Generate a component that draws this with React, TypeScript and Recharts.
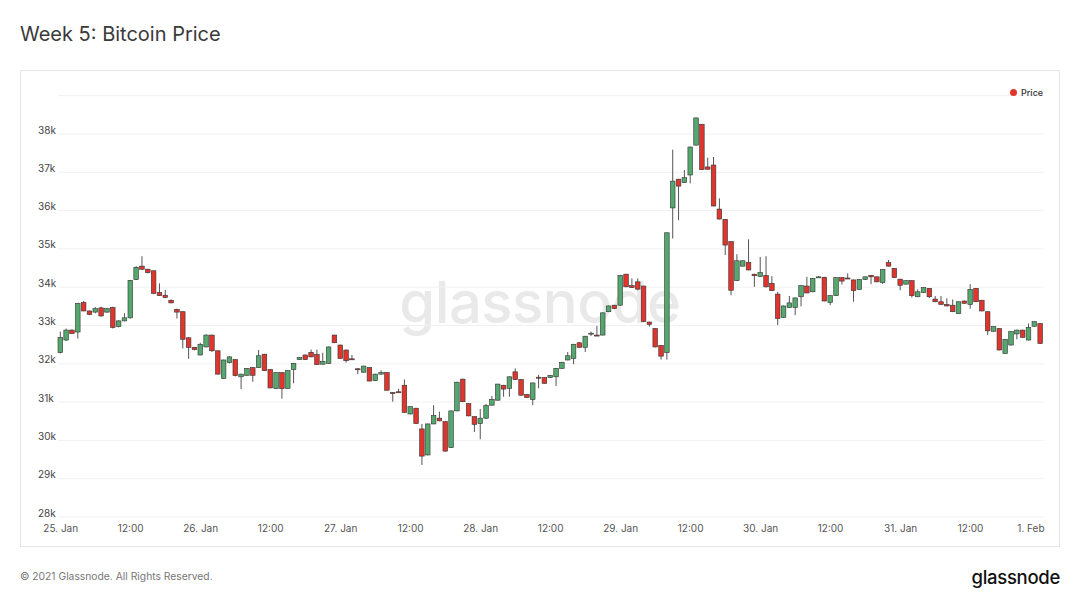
import React from 'react';
import { ComposedChart, Bar, XAxis, YAxis, CartesianGrid } from 'recharts';

const TICK_LABELS = [
  '25. Jan', '12:00', '26. Jan', '12:00', '27. Jan', '12:00', '28. Jan', '12:00',
  '29. Jan', '12:00', '30. Jan', '12:00', '31. Jan', '12:00', '1. Feb',
];
const Y_TICKS = [28000, 29000, 30000, 31000, 32000, 33000, 34000, 35000, 36000, 37000, 38000, 39000];

// hourly candles, 25 Jan 00:00 .. 1 Feb 00:00
const OPEN = [
  32290, 32620, 32880, 32830, 33600, 33380, 33350, 33460, 33350, 33470, 32970, 33120,
  33200, 34200, 34550, 34470, 34430, 33860, 33790, 33660, 33420, 33360, 32680, 32430,
  32230, 32440, 32750, 32340, 31620, 32030, 32110, 31660, 31700, 31900, 31900, 32250,
  31850, 31350, 31770, 31360, 31850, 32110, 32230, 32300, 32240, 31990, 32010, 32750,
  32490, 32360, 32130, 31870, 31780, 31900, 31560, 31730, 31770, 31250, 31270, 31440,
  30690, 30840, 30300, 29620, 30430, 30580, 30490, 29810, 30770, 31600, 30960, 30620,
  30440, 30580, 30920, 31050, 31440, 31360, 31790, 31590, 31200, 31070, 31650, 31640,
  31640, 31660, 31880, 32100, 32140, 32550, 32430, 32790, 32750, 32750, 33360, 33530,
  33530, 34340, 34040, 34140, 34030, 33090, 32920, 32480, 32290, 36070, 36820, 36730,
  36930, 37710, 38250, 37140, 37190, 36040, 35770, 35190, 34170, 34550, 34650, 34340,
  34280, 34310, 34100, 33820, 33210, 33470, 33470, 33750, 34030, 33880, 34270, 34260,
  33600, 33780, 34250, 34240, 34190, 33940, 34200, 34310, 34270, 34120, 34640, 34490,
  34210, 34080, 34170, 33750, 33860, 33970, 33690, 33620, 33550, 33530, 33310, 33640,
  33550, 33970, 33660, 33360, 32850, 32920, 32270, 32490, 32780, 32880, 32620, 32980,
  33050,
];
const HIGH = [
  32840, 32920, 32900, 33590, 33640, 33390, 33480, 33490, 33460, 33490, 33140, 33320,
  34190, 34550, 34810, 34480, 34430, 34100, 33930, 33680, 33440, 33370, 32690, 32440,
  32550, 32770, 32760, 32350, 32110, 32200, 32120, 31740, 31890, 31910, 32360, 32260,
  31860, 31780, 31780, 31830, 32020, 32180, 32240, 32370, 32370, 32290, 32450, 32760,
  32500, 32370, 32230, 31880, 31950, 31910, 31740, 31830, 31780, 31260, 31350, 31590,
  30890, 30850, 30430, 30440, 30920, 30750, 30500, 30780, 31530, 31610, 30970, 30630,
  30820, 30950, 31160, 31480, 31450, 31670, 31880, 31600, 31210, 31510, 31710, 31650,
  31710, 31890, 32050, 32310, 32520, 32560, 32730, 32840, 32990, 33340, 33520, 33540,
  34320, 34350, 34230, 34230, 34040, 33100, 32930, 32490, 35430, 37590, 36830, 37060,
  37670, 38430, 38260, 37380, 37400, 36320, 35780, 35200, 34860, 34700, 35250, 34350,
  34790, 34810, 34290, 33880, 33520, 33770, 33730, 34050, 34270, 34240, 34290, 34270,
  33790, 34260, 34260, 34360, 34200, 34210, 34280, 34320, 34280, 34470, 34710, 34500,
  34220, 34180, 34180, 33940, 34000, 33980, 33770, 33770, 33710, 33680, 33630, 33650,
  34080, 33980, 33670, 33370, 32980, 32930, 32650, 32850, 32890, 32890, 33050, 33110,
  33060,
];
const LOW = [
  32270, 32600, 32780, 32660, 33370, 33270, 33320, 33230, 33330, 32920, 32950, 33110,
  33180, 34190, 34450, 34360, 33820, 33770, 33720, 33580, 33180, 32400, 32130, 32350,
  32220, 32430, 32310, 31720, 31600, 32010, 31670, 31340, 31690, 31530, 31890, 31810,
  31360, 31340, 31090, 31350, 31490, 32100, 32100, 32170, 31970, 31980, 32000, 32540,
  32130, 32030, 32110, 31730, 31770, 31540, 31550, 31720, 31300, 31010, 31250, 30720,
  30680, 30430, 29360, 29610, 30420, 30500, 29710, 29800, 30760, 31000, 30630, 30220,
  30030, 30560, 30910, 31040, 31140, 31140, 31580, 31170, 31110, 30920, 31360, 31480,
  31630, 31420, 31870, 32090, 31990, 32420, 32310, 32730, 32730, 32740, 33350, 33430,
  33520, 34000, 33980, 33920, 33090, 32970, 32430, 32110, 32110, 35270, 35750, 36720,
  36710, 37700, 37060, 37070, 36110, 35770, 34840, 33790, 34160, 34540, 34440, 34010,
  34270, 33990, 33900, 33010, 33200, 33460, 33270, 33500, 33840, 33870, 34250, 33630,
  33530, 33770, 34070, 34220, 33620, 33930, 34190, 34080, 34130, 34080, 34540, 34240,
  33920, 34070, 33730, 33740, 33850, 33720, 33610, 33540, 33500, 33350, 33300, 33570,
  33440, 33610, 33370, 32750, 32840, 32350, 32260, 32480, 32640, 32680, 32610, 32970,
  32520,
];
const CLOSE = [
  32690, 32880, 32790, 33580, 33380, 33290, 33440, 33250, 33440, 32950, 33120, 33200,
  34180, 34520, 34470, 34380, 33840, 33780, 33730, 33590, 33350, 32640, 32430, 32370,
  32510, 32750, 32340, 31730, 32100, 32180, 31690, 31730, 31880, 31700, 32210, 31820,
  31370, 31770, 31350, 31820, 32010, 32160, 32110, 32180, 31980, 32060, 32440, 32550,
  32140, 32080, 32120, 31860, 31940, 31550, 31730, 31770, 31310, 31240, 31260, 30730,
  30880, 30440, 29590, 30430, 30650, 30510, 29720, 30770, 31520, 31010, 30640, 30420,
  30580, 30910, 31070, 31470, 31340, 31660, 31590, 31180, 31120, 31500, 31640, 31490,
  31700, 31880, 32040, 32210, 32510, 32430, 32720, 32800, 32740, 33330, 33510, 33440,
  34310, 34010, 33990, 33950, 33100, 33030, 32440, 32200, 35420, 36770, 36640, 36860,
  37660, 38420, 37070, 37080, 36120, 35780, 35100, 33920, 34690, 34690, 34450, 34300,
  34380, 34010, 33910, 33180, 33510, 33590, 33720, 34040, 33850, 34230, 34270, 33640,
  33780, 34250, 34160, 34230, 33910, 34200, 34270, 34270, 34140, 34460, 34550, 34250,
  34050, 34170, 33780, 33880, 33990, 33750, 33620, 33550, 33510, 33360, 33620, 33580,
  33940, 33620, 33380, 32860, 32970, 32360, 32640, 32840, 32880, 32690, 32950, 33100,
  32530,
];

const UP = '#54a86e';
const DOWN = '#e0352d';

const data = OPEN.map((open, i) => ({
  idx: i,
  open,
  high: HIGH[i],
  low: LOW[i],
  close: CLOSE[i],
  range: [LOW[i], HIGH[i]],
}));

function Candle(props: any) {
  const { x, y, width, height, payload } = props;
  if (!payload) return null;
  const { open, close, high, low } = payload;
  const span = high - low || 1;
  const toY = (v: number) => y + ((high - v) / span) * height;
  const cx = x + width / 2;
  const top = toY(Math.max(open, close));
  const bottom = toY(Math.min(open, close));
  const up = close >= open;
  return (
    <g>
      <line x1={cx} x2={cx} y1={y} y2={y + height} stroke="#555" strokeWidth={1} />
      <rect
        x={cx - 2.3}
        y={top}
        width={4.6}
        height={Math.max(bottom - top, 1)}
        fill={up ? UP : DOWN}
        stroke="#333"
        strokeWidth={0.6}
      />
    </g>
  );
}

const YTick = (props: any) => {
  const { y, payload } = props;
  if (payload.value === 39000) return <g />;
  return (
    <text x={18} y={y - 4} dy="0.35em" fontSize={10} fill="#444" textAnchor="start">
      {payload.value / 1000}k
    </text>
  );
};

const XTick = (props: any) => {
  const { x, payload } = props;
  const i = payload.value / 12;
  const last = i === TICK_LABELS.length - 1;
  return (
    <text
      x={last ? x + 4 : x}
      y={458}
      dy="0.35em"
      fontSize={10}
      fill="#555"
      textAnchor={last ? 'end' : 'middle'}
    >
      {TICK_LABELS[i]}
    </text>
  );
};

export default function App() {
  return (
    <div
      style={{
        position: 'absolute',
        left: 0,
        top: 0,
        width: 1080,
        height: 605,
        background: '#fff',
        fontFamily: 'Inter, "Noto Sans", sans-serif',
        overflow: 'hidden',
      }}
    >
      <div style={{ position: 'absolute', left: 20, top: 22, fontSize: 20, lineHeight: '24px', color: '#3a3a3a' }}>
        Week 5: Bitcoin Price
      </div>

      <div
        style={{
          position: 'absolute',
          left: 20,
          top: 70,
          width: 1040,
          height: 477,
          boxSizing: 'border-box',
          border: '1px solid #e6e6e6',
          background: '#fff',
        }}
      />
      <div
        style={{
          position: 'absolute',
          left: 20,
          top: 290 - 23,
          width: 1040,
          textAlign: 'center',
          fontSize: 58,
          lineHeight: '70px',
          fontWeight: 500,
          color: '#e9e9e9',
          letterSpacing: -0.5,
        }}
      >
        glassnode
      </div>
      <div style={{ position: 'absolute', left: 20, top: 70 }}>
        <ComposedChart
          width={1040}
          height={477}
          data={data}
          margin={{ top: 25.7, right: 16.5, bottom: 0, left: 0 }}
        >
          <CartesianGrid horizontal vertical={false} stroke="#f1f1f1" />
          <XAxis
            dataKey="idx"
            type="category"
            interval={11}
            height={30}
            axisLine={false}
            tickLine={false}
            tick={<XTick />}
          />
          <YAxis
            type="number"
            domain={[28000, 39000]}
            ticks={Y_TICKS}
            width={37.8}
            axisLine={false}
            tickLine={false}
            tick={<YTick />}
            allowDataOverflow
          />
          <Bar dataKey="range" barSize={5} shape={<Candle />} isAnimationActive={false} />
        </ComposedChart>
      </div>

      <div
        style={{
          position: 'absolute',
          left: 1010,
          top: 87,
          display: 'flex',
          alignItems: 'center',
          fontSize: 9,
          fontWeight: 500,
          color: '#333',
        }}
      >
        <span
          style={{ width: 7, height: 7, borderRadius: '50%', background: '#e0352d', display: 'inline-block', marginRight: 4 }}
        />
        Price
      </div>

      <div style={{ position: 'absolute', left: 20, top: 569, fontSize: 10.3, lineHeight: '14px', color: '#777' }}>
        © 2021 Glassnode. All Rights Reserved.
      </div>
      <div
        style={{
          position: 'absolute',
          right: 20,
          top: 566,
          fontSize: 18.5,
          lineHeight: '22px',
          fontWeight: 500,
          color: '#111',
          letterSpacing: -0.3,
        }}
      >
        glassnode
      </div>
    </div>
  );
}
